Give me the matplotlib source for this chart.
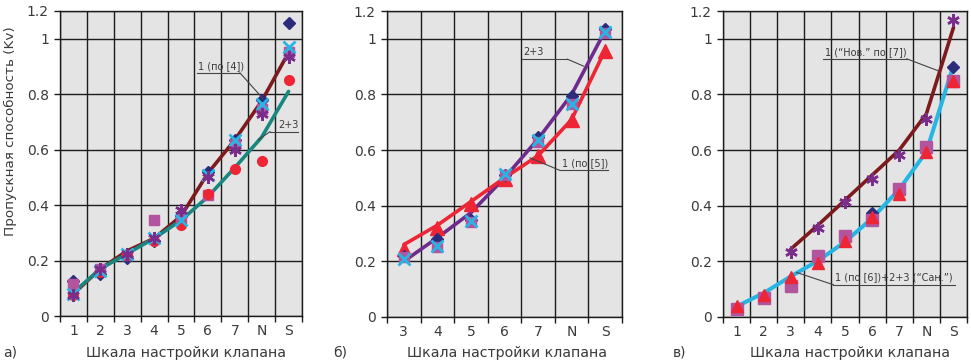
import numpy as np
import matplotlib
matplotlib.use("Agg")
import matplotlib.pyplot as plt

plt.rcParams['font.family'] = ['DejaVu Sans']

# ---------------- data ----------------
cats_a = ['1', '2', '3', '4', '5', '6', '7', 'N', 'S']
a_line1 = [0.08, 0.17, 0.235, 0.28, 0.36, 0.515, 0.635, 0.775, 0.95]   # 1 (по [4])
a_line23 = [0.085, 0.17, 0.225, 0.28, 0.345, 0.43, 0.535, 0.645, 0.81]  # 2+3
a_diam = [0.128, 0.152, 0.21, 0.27, 0.36, 0.52, 0.635, 0.78, 1.055]
a_square = [0.114, 0.17, 0.22, 0.345, 0.35, 0.435, 0.62, 0.745, 0.953]
a_circle = [0.075, 0.16, 0.22, 0.27, 0.33, 0.44, 0.53, 0.56, 0.85]
a_x = [0.08, 0.162, 0.225, 0.28, 0.345, 0.51, 0.633, 0.765, 0.97]
a_star = [0.074, 0.17, 0.225, 0.28, 0.383, 0.5, 0.597, 0.728, 0.935]

cats_b = ['3', '4', '5', '6', '7', 'N', 'S']
b_line23 = [0.2, 0.285, 0.375, 0.5, 0.64, 0.8, 1.03]
b_line1 = [0.26, 0.33, 0.415, 0.5, 0.58, 0.71, 0.96]   # 1 (по [5])
b_tri = [0.245, 0.32, 0.407, 0.497, 0.58, 0.707, 0.958]
b_diam = [0.22, 0.28, 0.35, 0.51, 0.647, 0.793, 1.036]
b_square = [0.215, 0.25, 0.34, 0.51, 0.629, 0.764, 1.02]
b_x = [0.21, 0.255, 0.345, 0.513, 0.635, 0.765, 1.024]

cats_c = ['1', '2', '3', '4', '5', '6', '7', 'N', 'S']
c_line_new = [np.nan, np.nan, 0.244, 0.33, 0.42, 0.51, 0.6, 0.73, 1.04]  # 1 ("Нов." по [7])
c_line_san = [0.038, 0.086, 0.146, 0.202, 0.27, 0.355, 0.459, 0.594, 0.904]  # 1 (по [6])+2+3 ("Сан.")
c_star = [np.nan, np.nan, 0.233, 0.321, 0.412, 0.495, 0.582, 0.713, 1.066]
c_tri = [0.04, 0.08, 0.145, 0.193, 0.275, 0.36, 0.442, 0.594, 0.848]
c_square = [0.029, 0.07, 0.112, 0.22, 0.29, 0.349, 0.46, 0.612, 0.85]
c_diam = [np.nan, np.nan, np.nan, np.nan, np.nan, 0.373, np.nan, np.nan, 0.9]

yticks = [0, 0.2, 0.4, 0.6, 0.8, 1.0, 1.1]
yticklabels = ['0', '0.2', '0.4', '0.6', '0.8', '1', '1.2']

# ---------------- style ----------------
NAVY = '#2d2b7c'
PINK = '#b2559e'
RED = '#ee2535'
CYAN = '#27b6e3'
PURPLE = '#7b2d8b'
DARKRED = '#7d1a1d'
TEAL = '#17877f'
VIOLET = '#6e2a8c'
BG = '#e4e4e4'
GRID = '#1c1c1c'
TXT = '#3a3a3a'

fig = plt.figure(figsize=(9.71, 3.63), dpi=100)
H = 363.0
W = 971.0


def make_ax(x0, x1, ytop, ybot, cats):
    ax = fig.add_axes([x0 / W, 1 - ybot / H, (x1 - x0) / W, (ybot - ytop) / H])
    n = len(cats)
    ax.set_facecolor(BG)
    ax.set_xlim(-0.5, n - 0.5)
    ax.set_ylim(0, 1.1)
    ax.set_xticks(np.arange(-0.5, n, 1.0))
    ax.set_xticklabels([])
    ax.set_xticks(np.arange(n), minor=True)
    ax.set_xticklabels(cats, minor=True)
    ax.tick_params(axis='x', which='major', length=4, width=1, color=GRID, direction='out')
    ax.tick_params(axis='x', which='minor', length=0, pad=6, labelsize=10, labelcolor=TXT)
    ax.set_yticks(yticks)
    ax.set_yticklabels(yticklabels)
    ax.tick_params(axis='y', length=4, width=1, color=GRID, pad=4, labelsize=10, labelcolor=TXT)
    ax.grid(True, which='major', color=GRID, lw=1.0)
    ax.set_axisbelow(True)
    for s in ax.spines.values():
        s.set_color(GRID)
        s.set_linewidth(1.0)
    return ax


def leader(ax, text, tx, ty, ux0, ux1, uy, px, py, from_right=True):
    ax.text(tx, ty, text, fontsize=7, color=TXT, ha='left', va='bottom', zorder=6)
    ax.plot([ux0, ux1], [uy, uy], color='#444444', lw=0.8, zorder=6, clip_on=False)
    sx = ux1 if from_right else ux0
    ax.plot([sx, px], [uy, py], color='#444444', lw=0.8, zorder=6, clip_on=False)


# ---------------- panel a ----------------
ax = make_ax(60, 302, 11, 316, cats_a)
xa = np.arange(len(cats_a))
ax.plot(xa, a_line1, color=DARKRED, lw=2.6, zorder=3, solid_capstyle='round')
ax.plot(xa, a_line23, color=TEAL, lw=2.6, zorder=3, solid_capstyle='round')
ax.plot(xa, a_diam, 'D', color=NAVY, ms=6, zorder=4, ls='none')
ax.plot(xa, a_square, 's', color=PINK, ms=7, zorder=4, ls='none')
ax.plot(xa, a_circle, 'o', color=RED, ms=7, zorder=4, ls='none')
ax.plot(xa, a_x, 'x', color=CYAN, ms=9, mew=2, zorder=5, ls='none')
ax.plot(xa, a_star, marker=(6, 2, 0), color=PURPLE, ms=9, mew=1.8, zorder=5, ls='none')
leader(ax, '1 (по [4])', 4.62, 0.885, 4.59, 6.19, 0.877, 7.04, 0.785)
leader(ax, '2+3', 7.6, 0.672, 7.31, 8.35, 0.665, 6.87, 0.635, from_right=False)

# ---------------- panel b ----------------
ax = make_ax(387, 622, 11, 317, cats_b)
xb = np.arange(len(cats_b))
ax.plot(xb, b_line23, color=VIOLET, lw=2.6, zorder=3, solid_capstyle='round')
ax.plot(xb, b_line1, color=RED, lw=2.6, zorder=3, solid_capstyle='round')
ax.plot(xb, b_tri, '^', color=RED, ms=10, zorder=4, ls='none')
ax.plot(xb, b_diam, 'D', color=NAVY, ms=6, zorder=4, ls='none')
ax.plot(xb, b_square, 's', color=PINK, ms=7, zorder=4, ls='none')
ax.plot(xb, b_x, 'x', color=CYAN, ms=9, mew=2, zorder=5, ls='none')
leader(ax, '2+3', 3.56, 0.935, 3.51, 4.87, 0.927, 5.35, 0.902)
leader(ax, '1 (по [5])', 4.72, 0.535, 4.65, 6.09, 0.527, 3.76, 0.572, from_right=False)

# ---------------- panel c ----------------
ax = make_ax(723, 967, 11, 317, cats_c)
xc = np.arange(len(cats_c))
ax.plot(xc, c_line_new, color=DARKRED, lw=2.6, zorder=3, solid_capstyle='round')
ax.plot(xc, c_line_san, color=CYAN, lw=2.9, zorder=3, solid_capstyle='round')
ax.plot(xc, c_diam, 'D', color=NAVY, ms=6, zorder=4, ls='none')
ax.plot(xc, c_square, 's', color=PINK, ms=8, zorder=4, ls='none')
ax.plot(xc, c_tri, '^', color=RED, ms=9, zorder=4, ls='none')
ax.plot(xc, c_star, marker=(6, 2, 0), color=PURPLE, ms=9, mew=1.8, zorder=5, ls='none')
leader(ax, '1 (“Нов.” по [7])', 3.25, 0.936, 3.2, 6.28, 0.928, 7.44, 0.885)
leader(ax, '1 (по [6])+2+3 (“Сан.”)', 3.63, 0.124, 3.57, 8.05, 0.116, 2.22, 0.16, from_right=False)

# ---------------- labels ----------------
fig.text(10 / W, 1 - 131 / H, 'Пропускная способность (Kv)', rotation=90,
         ha='center', va='center', fontsize=9.7, color=TXT)
for cx, lab in [(186, 'Шкала настройки клапана'), (507, 'Шкала настройки клапана'),
                (850, 'Шкала настройки клапана')]:
    fig.text(cx / W, 1 - 353 / H, lab, ha='center', va='center', fontsize=10.2, color=TXT)
for lx, lab in [(3, 'а)'), (333, 'б)'), (673, 'в)')]:
    fig.text(lx / W, 1 - 353 / H, lab, ha='left', va='center', fontsize=10, color=TXT)

fig.savefig('out.png', dpi=100)
